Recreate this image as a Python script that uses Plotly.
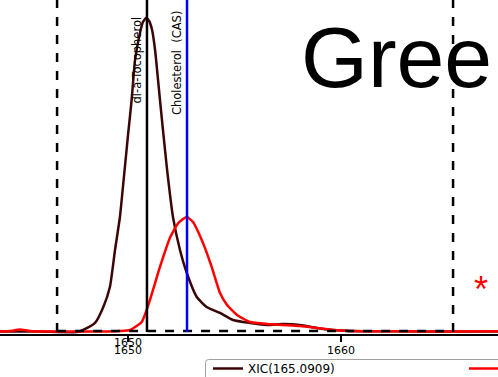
import plotly.graph_objects as go

# ---- data (retention axis, relative intensity %) ----
xic1_name = "XIC(165.0909)"
xic1_x = [1643.99, 1645.87, 1647.61, 1647.89, 1648.45, 1648.84, 1649.15, 1649.39, 1649.62, 1649.78,
          1650.01, 1650.17, 1650.33, 1650.56, 1650.70, 1650.85, 1650.99, 1651.13, 1651.27, 1651.41,
          1651.50, 1651.82, 1652.11, 1652.44, 1652.76, 1653.23, 1653.69, 1654.32, 1654.93, 1655.73,
          1656.53, 1657.28, 1658.08, 1658.87, 1659.62, 1660.42, 1662.77, 1665.12, 1667.37]
xic1_y = [0.16, 0.16, 0.0, 0.64, 2.87, 7.96, 14.33, 26.11, 36.62, 47.45,
          63.38, 73.89, 86.62, 95.22, 98.73, 100.0, 99.04, 96.18, 89.81, 80.25,
          73.89, 52.55, 36.62, 26.11, 18.79, 11.15, 7.96, 6.05, 3.82, 2.87,
          2.23, 2.55, 2.23, 1.27, 0.64, 0.32, 0.22, 0.16, 0.16]

xic2_name = "XIC(369.3516)"
xic2_x = [1643.99, 1644.46, 1644.93, 1645.40, 1646.67, 1648.69, 1649.62, 1650.09, 1650.64, 1651.03,
          1651.50, 1651.97, 1652.35, 1652.76, 1653.05, 1653.52, 1653.93, 1654.32, 1654.65, 1655.12,
          1655.73, 1656.53, 1657.28, 1658.08, 1658.87, 1659.62, 1660.42, 1662.77, 1665.12, 1667.37]
xic2_y = [0.16, 0.32, 0.8, 0.32, 0.16, 0.16, 0.32, 0.64, 3.18, 10.19,
          20.70, 30.0, 34.6, 36.62, 35.0, 28.34, 20.70, 12.42, 8.60, 5.41,
          3.18, 2.55, 2.23, 1.91, 1.27, 0.64, 0.32, 0.22, 0.16, 0.22]

marker_names = ["dl-a-Tocopherol", "Cholesterol  (CAS)"]
marker_x = [1650.89, 1652.77]
marker_colors = ["#000000", "#0000ff"]
marker_label_shift = [-14, -9]

window_x = [1646.67, 1665.26]
tick_vals = [1650, 1660]
tick_text = ["1650", "1660"]
x_range = [1643.99, 1667.37]
y_range = [-0.64, 105.73]

W, H = 498, 377
PLOT_H = 334  # plot area height in px (top margin 0)
font = "DejaVu Sans"


def px_x(p):
    return p / W


def px_y(p):
    return (PLOT_H - p) / PLOT_H


fig = go.Figure()
fig.add_trace(go.Scatter(x=xic1_x, y=xic1_y, name=xic1_name, mode="lines", legend="legend",
                         line=dict(color="#3c0505", width=2.5, shape="spline", smoothing=0.5)))
fig.add_trace(go.Scatter(x=xic2_x, y=xic2_y, name=xic2_name, mode="lines", legend="legend2",
                         line=dict(color="#ff0000", width=2.5, shape="spline", smoothing=0.5)))

shapes = []
for wx in window_x:
    shapes.append(dict(type="line", xref="x", yref="y", x0=wx, x1=wx, y0=0, y1=y_range[1],
                       line=dict(color="black", width=2.5, dash="9px,9px"), layer="above"))
shapes.append(dict(type="line", xref="x", yref="y", x0=window_x[0], x1=window_x[1], y0=0.3, y1=0.3,
                   line=dict(color="black", width=2.5, dash="9px,9px"), layer="above"))
annotations = []
for nm, mx, mc, sh in zip(marker_names, marker_x, marker_colors, marker_label_shift):
    shapes.append(dict(type="line", xref="x", yref="y", x0=mx, x1=mx, y0=0, y1=y_range[1],
                       line=dict(color=mc, width=2.5), layer="above"))
    annotations.append(dict(x=mx, y=y_range[1], xref="x", yref="y", text=nm, textangle=-90,
                            showarrow=False, xanchor="right", yanchor="top", xshift=-1, yshift=sh,
                            font=dict(family=font, size=11.5, color="black")))

# legend frame (extends past the right edge)
lx0, lx1, ly0, ly1, r = px_x(205.5), px_x(520), px_y(359.5), px_y(395), 3
rx, ry = r / W, r / PLOT_H
shapes.append(dict(type="path", xref="paper", yref="paper",
                   path=(f"M {lx1} {ly0} L {lx0 + rx} {ly0} Q {lx0} {ly0} {lx0} {ly0 - ry} "
                         f"L {lx0} {ly1}"),
                   line=dict(color="#a0a0a0", width=1), layer="above"))

annotations.append(dict(x=px_x(299), y=px_y(57), xref="paper", yref="paper", text="Green",
                        showarrow=False, xanchor="left", yanchor="middle",
                        font=dict(family="Liberation Sans", size=86, color="black")))
annotations.append(dict(x=px_x(481), y=px_y(289), xref="paper", yref="paper", text="*",
                        showarrow=False, xanchor="center", yanchor="middle",
                        font=dict(family="Liberation Sans", size=36, color="#ff0000")))
annotations.append(dict(x=tick_vals[0], y=0, xref="x", yref="paper", text=tick_text[0],
                        showarrow=False, xanchor="center", yanchor="top", yshift=0,
                        font=dict(family=font, size=11, color="black")))

legend_common = dict(orientation="h", yanchor="top", borderwidth=0, bgcolor="rgba(0,0,0,0)",
                     font=dict(family=font, size=12, color="black"))

fig.update_layout(
    width=W, height=H,
    margin=dict(l=0, r=0, t=0, b=H - PLOT_H, autoexpand=False),
    plot_bgcolor="white", paper_bgcolor="white",
    shapes=shapes, annotations=annotations,
    showlegend=True,
    legend=dict(x=px_x(208), xanchor="left", y=px_y(354), **legend_common),
    legend2=dict(x=px_x(464), xanchor="left", y=px_y(354), **legend_common),
    xaxis=dict(range=x_range, tickvals=tick_vals, ticktext=tick_text, ticks="outside",
               ticklen=6, tickwidth=2, tickcolor="black", showline=True, linecolor="black",
               linewidth=2, showgrid=False, zeroline=False, ticklabelstandoff=-1,
               tickfont=dict(family=font, size=11, color="black")),
    yaxis=dict(range=y_range, visible=False, showgrid=False, zeroline=False),
)

fig.write_html("out.html")
